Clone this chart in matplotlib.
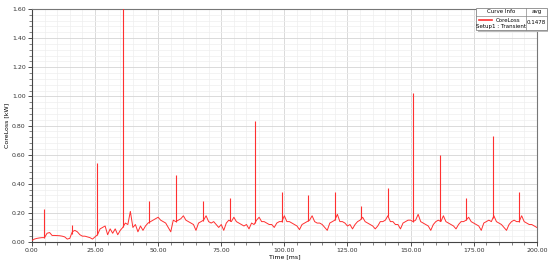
import numpy as np
import matplotlib.pyplot as plt
from matplotlib.patches import Rectangle
from matplotlib.lines import Line2D

# baseline core loss sampled every 1 ms [kW]
tiempo = np.arange(0, 201, 1.0)
perdida = [
    0.010, 0.020, 0.025, 0.028, 0.030, 0.030, 0.060, 0.065, 0.045, 0.045,
    0.044, 0.043, 0.040, 0.035, 0.020, 0.025, 0.070, 0.080, 0.070, 0.050,
    0.040, 0.040, 0.035, 0.030, 0.020, 0.035, 0.050, 0.090, 0.100, 0.110,
    0.050, 0.090, 0.060, 0.090, 0.050, 0.080, 0.100, 0.130, 0.120, 0.210,
    0.100, 0.120, 0.070, 0.110, 0.080, 0.110, 0.130, 0.140, 0.150, 0.160,
    0.170, 0.150, 0.140, 0.130, 0.100, 0.070, 0.150, 0.140, 0.150, 0.160,
    0.180, 0.150, 0.140, 0.130, 0.120, 0.080, 0.130, 0.140, 0.150, 0.180,
    0.140, 0.130, 0.140, 0.120, 0.100, 0.120, 0.080, 0.130, 0.150, 0.140,
    0.170, 0.140, 0.130, 0.120, 0.110, 0.120, 0.090, 0.130, 0.120, 0.150,
    0.170, 0.140, 0.140, 0.130, 0.120, 0.120, 0.100, 0.130, 0.140, 0.140,
    0.180, 0.140, 0.140, 0.130, 0.120, 0.110, 0.085, 0.120, 0.130, 0.140,
    0.150, 0.180, 0.140, 0.130, 0.130, 0.120, 0.100, 0.080, 0.130, 0.140,
    0.150, 0.190, 0.140, 0.140, 0.130, 0.110, 0.120, 0.090, 0.120, 0.140,
    0.150, 0.170, 0.140, 0.130, 0.120, 0.110, 0.090, 0.110, 0.140, 0.140,
    0.150, 0.180, 0.140, 0.140, 0.120, 0.120, 0.090, 0.130, 0.140, 0.150,
    0.150, 0.140, 0.150, 0.190, 0.140, 0.130, 0.120, 0.110, 0.080, 0.120,
    0.140, 0.150, 0.140, 0.180, 0.140, 0.130, 0.120, 0.110, 0.090, 0.120,
    0.140, 0.140, 0.150, 0.170, 0.140, 0.130, 0.120, 0.110, 0.080, 0.130,
    0.140, 0.150, 0.140, 0.180, 0.140, 0.130, 0.120, 0.100, 0.080, 0.120,
    0.140, 0.150, 0.140, 0.140, 0.180, 0.140, 0.130, 0.120, 0.120, 0.110,
    0.100,
]

# switching spikes
t_pico = [4.8, 15.7, 25.9, 36.1, 46.3, 57.0, 67.7, 78.4, 88.4, 99.0,
          109.3, 120.0, 130.3, 141.0, 151.0, 161.7, 172.0, 182.6, 193.0]
v_pico = [0.23, 0.12, 0.54, 1.75, 0.28, 0.46, 0.28, 0.30, 0.83, 0.34,
          0.32, 0.34, 0.25, 0.37, 1.02, 0.60, 0.30, 0.73, 0.34]

promedio = "0.1478"
rojo = '#ff3030'

fig = plt.figure(figsize=(5.5, 2.61), dpi=100)
ax = fig.add_axes([0.058, 0.0728, 0.918, 0.8927])

base_pico = np.interp(t_pico, tiempo, perdida)
ax.plot(tiempo, perdida, color=rojo, lw=0.7, zorder=3)
ax.vlines(t_pico, base_pico, v_pico, color=rojo, lw=0.8, zorder=3)

ax.set_xlim(0, 200)
ax.set_ylim(0, 1.6)
ax.set_xticks(np.arange(0, 201, 25))
ax.set_xticks(np.arange(0, 201, 5), minor=True)
ax.set_yticks(np.arange(0, 1.61, 0.2))
ax.set_yticks(np.arange(0, 1.61, 0.04), minor=True)
ax.set_xticklabels([f"{v:.2f}" for v in np.arange(0, 201, 25)])
ax.set_yticklabels([f"{v:.2f}" for v in np.arange(0, 1.61, 0.2)])
ax.tick_params(labelsize=4.5, length=3, width=0.6, pad=1.5, colors='#333333')
ax.tick_params(which='minor', length=2, width=0.5, colors='#555555')

ax.grid(which='major', color='#d4d4d4', lw=0.6)
ax.grid(which='minor', color='#eeeeee', lw=0.5)
ax.set_axisbelow(True)
for s in ax.spines.values():
    s.set_color('#777777')
    s.set_linewidth(0.8)
ax.spines['left'].set_color('#444444')
ax.spines['bottom'].set_color('#444444')

ax.set_xlabel('Time [ms]', fontsize=4.5, labelpad=1)
ax.set_ylabel('CoreLoss [kW]', fontsize=4.5, labelpad=2)

# curve info box
x0, y0, w, h = 0.866, 0.885, 0.128, 0.085
fig.patches.append(Rectangle((x0 + 0.003, y0 - 0.008), w, h, transform=fig.transFigure,
                             facecolor='#bbbbbb', edgecolor='none', zorder=5))
fig.patches.append(Rectangle((x0, y0), w, h, transform=fig.transFigure,
                             facecolor='white', edgecolor='#888888', lw=0.6, zorder=6))
xc = x0 + 0.09
fig.lines.append(Line2D([xc, xc], [y0, y0 + h], transform=fig.transFigure,
                        color='#888888', lw=0.5, zorder=7))
fig.lines.append(Line2D([x0, x0 + w], [y0 + h - 0.03, y0 + h - 0.03], transform=fig.transFigure,
                        color='#888888', lw=0.5, zorder=7))
fig.text(x0 + 0.045, y0 + h - 0.015, 'Curve Info', fontsize=4, ha='center', va='center', zorder=8)
fig.text(xc + 0.019, y0 + h - 0.015, 'avg', fontsize=4, ha='center', va='center', zorder=8)
fig.lines.append(Line2D([x0 + 0.004, x0 + 0.028], [y0 + 0.04, y0 + 0.04], transform=fig.transFigure,
                        color=rojo, lw=1.2, zorder=8))
fig.text(x0 + 0.058, y0 + 0.038, 'CoreLoss', fontsize=4, ha='center', va='center', zorder=8)
fig.text(x0 + 0.045, y0 + 0.015, 'Setup1 : Transient', fontsize=4, ha='center', va='center', zorder=8)
fig.text(xc + 0.019, y0 + 0.027, promedio, fontsize=4, ha='center', va='center', zorder=8)

fig.savefig('out.png', dpi=100)
